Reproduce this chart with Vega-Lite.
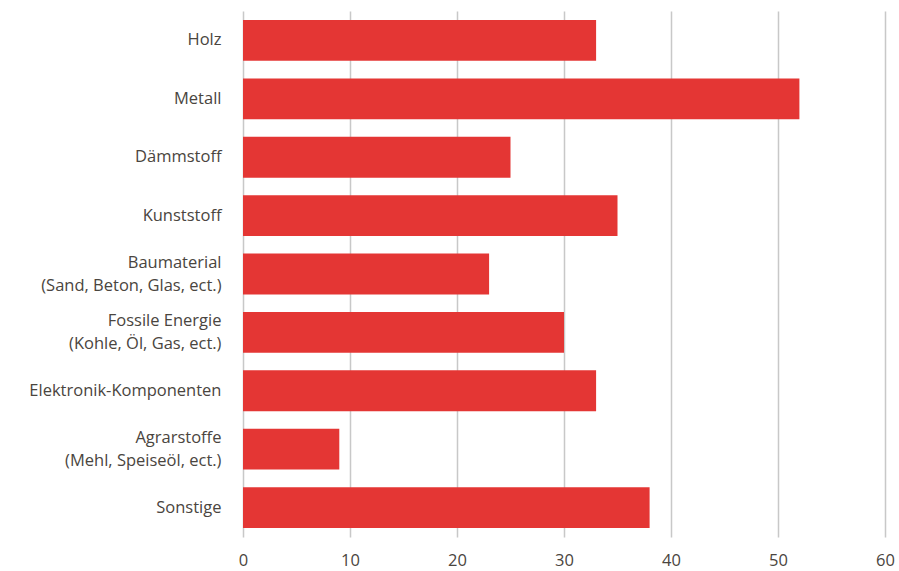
{
  "$schema": "https://vega.github.io/schema/vega-lite/v6.json",
  "width": 642,
  "height": 526,
  "autosize": "none",
  "padding": {"left": 243, "top": 11, "right": 14, "bottom": 34},
  "background": "white",
  "data": {
    "values": [
      {"kategorie": "Holz", "wert": 33},
      {"kategorie": "Metall", "wert": 52},
      {"kategorie": "Dämmstoff", "wert": 25},
      {"kategorie": "Kunststoff", "wert": 35},
      {"kategorie": "Baumaterial|(Sand, Beton, Glas, ect.)", "wert": 23},
      {"kategorie": "Fossile Energie|(Kohle, Öl, Gas, ect.)", "wert": 30},
      {"kategorie": "Elektronik-Komponenten", "wert": 33},
      {"kategorie": "Agrarstoffe|(Mehl, Speiseöl, ect.)", "wert": 9},
      {"kategorie": "Sonstige", "wert": 38}
    ]
  },
  "mark": {"type": "bar", "color": "#e43634"},
  "encoding": {
    "y": {
      "field": "kategorie",
      "type": "nominal",
      "sort": null,
      "scale": {"paddingInner": 0.3, "paddingOuter": 0.154},
      "axis": {
        "title": null,
        "domain": false,
        "ticks": false,
        "labelPadding": 22,
        "labelFont": "Open Sans",
        "labelFontSize": 16.5,
        "labelColor": "#4a4540",
        "labelLineHeight": 23,
        "labelLimit": 300,
        "labelOffset": {"expr": "indexof(datum.value, '|') >= 0 ? -11.5 : 0"},
        "labelExpr": "split(datum.value, '|')"
      }
    },
    "x": {
      "field": "wert",
      "type": "quantitative",
      "scale": {"domain": [0, 60], "nice": false},
      "axis": {
        "title": null,
        "values": [0, 10, 20, 30, 40, 50, 60],
        "domain": false,
        "ticks": false,
        "labelPadding": 15,
        "labelFont": "Open Sans",
        "labelFontSize": 16.5,
        "labelColor": "#4a4540",
        "labelFlush": false,
        "gridColor": "#c8c8c8",
        "gridWidth": 1.5
      }
    }
  },
  "config": {"view": {"stroke": null}}
}
